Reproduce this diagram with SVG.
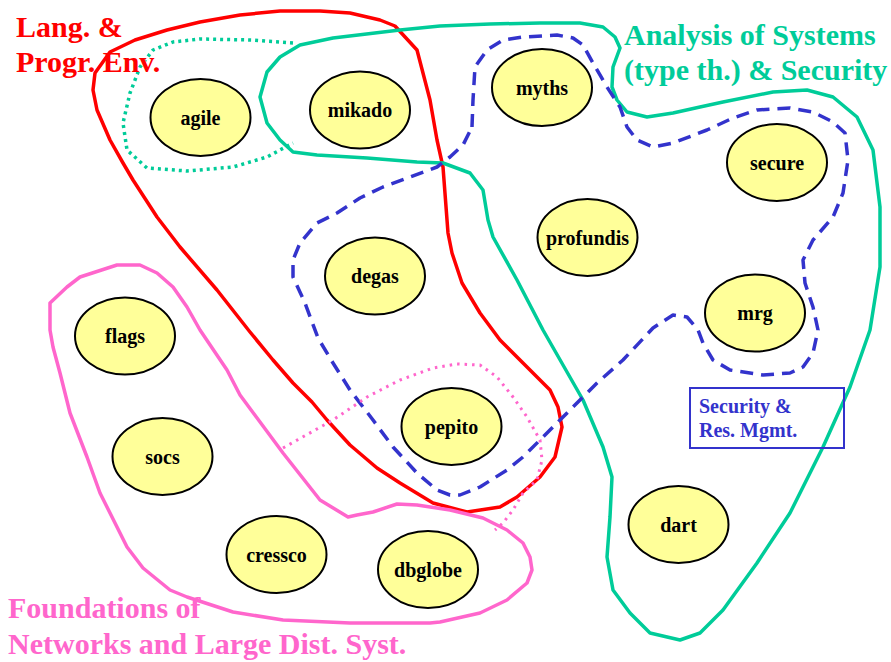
<svg xmlns="http://www.w3.org/2000/svg" width="891" height="662" viewBox="0 0 891 662">
<style>
.node ellipse{fill:#FFFF99;stroke:#000;stroke-width:2}
.node text{font-family:"Liberation Serif","Times New Roman",serif;font-weight:bold;font-size:20px;fill:#000;text-anchor:middle}
.c{fill:none;stroke-linejoin:round;stroke-linecap:butt}
.lbl{font-family:"Liberation Serif","Times New Roman",serif;font-weight:bold;font-size:30px}
</style>
<rect width="891" height="662" fill="#fff"/>
<g id="connectors">
<path id="lang" class="c" stroke="#FF0000" stroke-width="3.5" d="M110,52 L135,40 L167,30 L200,22 L240,15 L280,11 L320,11 L350,13 L380,20 L395,26 L417,50 L430,100 L437,140 L443,167 L448,233 L452,253 L462,283 L480,313 L500,340 L523,363 L550,390 L558,407 L562,427 L555,457 L540,477 L517,497 L500,507 L467,512 L433,503 L400,483 L377,468 L350,445 L327,420 L312,402 L293,383 L273,360 L250,332 L217,290 L180,247 L157,217 L133,180 L123,163 L110,140 L97,110 L93,90 L95,73 Z"/>
<path id="analysis" class="c" stroke="#00CC99" stroke-width="3.5" d="M440,26 L400,30 L333,38 L300,45 L280,57 L267,72 L260,97 L267,123 L280,140 L293,152 L317,155 L367,158 L417,162 L443,163 L470,173 L483,190 L488,220 L493,237 L517,280 L543,330 L583,400 L603,447 L612,477 L610,517 L607,557 L613,590 L630,613 L650,633 L680,640 L700,633 L723,610 L757,563 L790,513 L823,447 L850,387 L870,330 L880,267 L880,207 L873,150 L857,117 L833,97 L807,90 L773,92 L723,102 L700,107 L673,113 L647,117 L627,112 L617,100 L612,87 L613,67 L620,48 L615,37 L603,27 L580,23 L540,23 L490,24 Z"/>
<path id="agile-group" class="c" stroke="#00CC99" stroke-width="3.5" stroke-dasharray="3 4" d="M293,43 L253,40 L200,39 L173,42 L153,50 L140,67 L130,93 L123,123 L127,150 L147,168 L187,171 L233,167 L267,157 L293,143"/>
<path id="security" class="c" stroke="#3333CC" stroke-width="3.5" stroke-dasharray="13 8" d="M472,127 L473,100 L475,67 L487,50 L503,40 L523,37 L557,35 L573,38 L583,45 L593,63 L607,87 L620,107 L627,127 L637,140 L653,147 L673,143 L707,130 L733,118 L757,110 L790,108 L813,112 L833,122 L845,133 L848,160 L843,193 L833,217 L813,240 L803,260 L805,283 L813,307 L818,330 L813,353 L803,367 L790,373 L763,375 L730,370 L713,360 L703,343 L698,330 L687,317 L673,315 L653,328 L623,360 L597,383 L580,400 L560,420 L540,440 L523,457 L507,470 L480,487 L460,495 L450,495 L437,490 L417,473 L393,447 L373,420 L350,390 L333,363 L318,338 L305,303 L293,277 L293,260 L300,243 L317,223 L337,213 L360,198 L383,187 L410,177 L437,167 L450,157 L463,145 Z"/>
<path id="foundations" class="c" stroke="#FF66CC" stroke-width="3.5" d="M50,330 L50,303 L67,287 L80,277 L117,265 L140,265 L157,273 L173,287 L187,307 L200,330 L227,370 L240,395 L283,453 L320,500 L348,517 L357,515 L373,512 L397,504 L417,505 L450,510 L483,518 L507,530 L523,543 L530,557 L532,570 L527,583 L507,600 L480,613 L440,622 L430,623 L350,623 L283,620 L233,612 L187,597 L170,590 L143,568 L127,547 L100,493 L87,457 L70,413 L60,373 L53,347 Z"/>
<path id="pepito-group" class="c" stroke="#FF66CC" stroke-width="3" stroke-dasharray="2.5 5" d="M283,448 L333,420 L367,397 L400,380 L433,368 L457,364 L480,365 L497,377 L513,397 L527,417 L540,440 L542,460 L537,480 L523,493 L513,510 L503,523 L495,530"/>
</g>
<g id="label-lang"><text class="lbl" fill="#FF0000" x="16" y="37">Lang. &amp;</text><text class="lbl" fill="#FF0000" x="16" y="72">Progr. Env.</text></g>
<g id="label-analysis"><text class="lbl" fill="#00CC99" x="624" y="45">Analysis of Systems</text><text class="lbl" fill="#00CC99" x="624" y="80">(type th.) &amp; Security</text></g>
<g id="label-foundations"><text class="lbl" fill="#FF66CC" x="8" y="618">Foundations of</text><text class="lbl" fill="#FF66CC" x="8" y="654">Networks and Large Dist. Syst.</text></g>
<g id="label-security"><rect x="690" y="388" width="154" height="60" fill="none" stroke="#3333CC" stroke-width="2"/><text font-family="Liberation Serif,Times New Roman,serif" font-weight="bold" font-size="20" fill="#3333CC" x="699" y="413">Security &amp;</text><text font-family="Liberation Serif,Times New Roman,serif" font-weight="bold" font-size="20" fill="#3333CC" x="699" y="437">Res. Mgmt.</text></g>
<g id="agile" class="node"><ellipse cx="200.5" cy="117.5" rx="50" ry="38.5"/><text x="200.5" y="124.5">agile</text></g>
<g id="mikado" class="node"><ellipse cx="360" cy="110" rx="50" ry="38.5"/><text x="360" y="117">mikado</text></g>
<g id="myths" class="node"><ellipse cx="542" cy="87.5" rx="50" ry="38.5"/><text x="542" y="94.5">myths</text></g>
<g id="secure" class="node"><ellipse cx="777" cy="162.5" rx="50" ry="38.5"/><text x="777" y="169.5">secure</text></g>
<g id="profundis" class="node"><ellipse cx="587.5" cy="237.5" rx="50" ry="38.5"/><text x="587.5" y="244.5">profundis</text></g>
<g id="degas" class="node"><ellipse cx="375" cy="276" rx="50" ry="38.5"/><text x="375" y="283">degas</text></g>
<g id="mrg" class="node"><ellipse cx="755" cy="313" rx="50" ry="38.5"/><text x="755" y="320">mrg</text></g>
<g id="flags" class="node"><ellipse cx="125" cy="336" rx="50" ry="38.5"/><text x="125" y="343">flags</text></g>
<g id="pepito" class="node"><ellipse cx="451.5" cy="426.5" rx="50" ry="38.5"/><text x="451.5" y="433.5">pepito</text></g>
<g id="socs" class="node"><ellipse cx="162.5" cy="456.5" rx="50" ry="38.5"/><text x="162.5" y="463.5">socs</text></g>
<g id="dart" class="node"><ellipse cx="678.5" cy="524.5" rx="50" ry="38.5"/><text x="678.5" y="531.5">dart</text></g>
<g id="cressco" class="node"><ellipse cx="276.5" cy="554.5" rx="50" ry="38.5"/><text x="276.5" y="561.5">cressco</text></g>
<g id="dbglobe" class="node"><ellipse cx="428" cy="569.5" rx="50" ry="38.5"/><text x="428" y="576.5">dbglobe</text></g>
</svg>
